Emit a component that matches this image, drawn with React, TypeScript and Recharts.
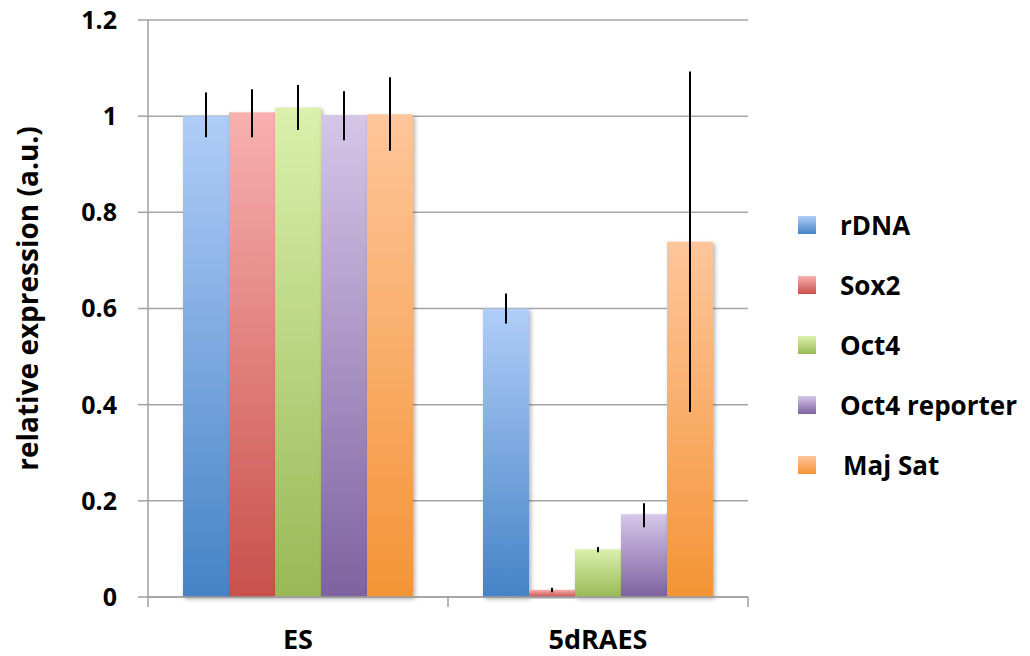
import React from 'react';
import { BarChart, Bar, XAxis, YAxis, CartesianGrid, ErrorBar } from 'recharts';

const categories = ['ES', '5dRAES'];
const seriesNames = ['rDNA', 'Sox2', 'Oct4', 'Oct4 reporter', 'Maj Sat'];
const seriesKeys = ['rDNA', 'sox2', 'oct4', 'oct4Reporter', 'majSat'];

const rDNA = [1.0, 0.6];
const sox2 = [1.008, 0.015];
const oct4 = [1.018, 0.099];
const oct4Reporter = [1.002, 0.172];
const majSat = [1.004, 0.739];

// error bar bounds
const rDNALow = [0.956, 0.569];
const rDNAHigh = [1.049, 0.631];
const sox2Low = [0.956, 0.01];
const sox2High = [1.056, 0.019];
const oct4Low = [0.971, 0.093];
const oct4High = [1.065, 0.104];
const oct4ReporterLow = [0.95, 0.145];
const oct4ReporterHigh = [1.052, 0.195];
const majSatLow = [0.928, 0.385];
const majSatHigh = [1.081, 1.093];

const yTicks = [0, 0.2, 0.4, 0.6, 0.8, 1, 1.2];

const topColors = ['#b0cdf8', '#f8b1b0', '#daf0ad', '#d5c6e8', '#fec69b'];
const bottomColors = ['#4583c6', '#c9504b', '#98b956', '#7e62a0', '#f49436'];

const values = [rDNA, sox2, oct4, oct4Reporter, majSat];
const lows = [rDNALow, sox2Low, oct4Low, oct4ReporterLow, majSatLow];
const highs = [rDNAHigh, sox2High, oct4High, oct4ReporterHigh, majSatHigh];

const data = categories.map((c, i) => {
  const row: any = { category: c };
  seriesKeys.forEach((k, s) => {
    const v = values[s][i];
    row[k] = v;
    row[k + 'Err'] = [v - lows[s][i], highs[s][i] - v];
  });
  return row;
});

const FONT = "'Open Sans', 'DejaVu Sans', sans-serif";

const XTick = (props: any) => {
  const { x, y, payload, index } = props;
  const half = payload && payload.offset ? payload.offset : 150;
  const last = index === categories.length - 1;
  return (
    <g>
      <line x1={x - half} x2={x - half} y1={y} y2={y + 10} stroke="#a0a0a0" strokeWidth={1.5} />
      {last && <line x1={x + half} x2={x + half} y1={y} y2={y + 10} stroke="#a0a0a0" strokeWidth={1.5} />}
      <text x={x} y={y + 41} textAnchor="middle" dominantBaseline="central" fontFamily={FONT} fontWeight="bold" fontSize={27} fill="#000">
        {payload.value}
      </text>
    </g>
  );
};

const YLabel = (props: any) => {
  const vb = props.viewBox || { x: 0, y: 20, width: 148, height: 577 };
  const cx = vb.x + 27;
  const cy = vb.y + vb.height / 2 - 10;
  return (
    <text x={cx} y={cy} transform={`rotate(-90, ${cx}, ${cy})`} textAnchor="middle" dominantBaseline="central" fontFamily={FONT} fontWeight="bold" fontSize={28} fill="#000">
      relative expression (a.u.)
    </text>
  );
};

const LegendBox = () => (
  <div style={{ position: 'absolute', left: 798, top: 195, width: 232, fontFamily: FONT }}>
    {seriesNames.map((n, i) => (
      <div key={n} style={{ height: 60, display: 'flex', alignItems: 'center' }}>
        <div style={{ width: 18, height: 18, flex: 'none', background: `linear-gradient(${topColors[i]}, ${bottomColors[i]})` }} />
        <span style={{ marginLeft: i === 4 ? 27 : 24, fontSize: 26, fontWeight: 'bold', color: '#000', whiteSpace: 'nowrap' }}>{n}</span>
      </div>
    ))}
  </div>
);

const BarShape = (p: any) => (
  <rect x={p.x} y={p.y} width={p.width} height={p.height} fill={p.fill} filter="url(#barShadow)" />
);

export default function App() {
  return (
    <div style={{ position: 'absolute', left: 0, top: 0, width: 1030, height: 656, background: '#fff', overflow: 'hidden' }}>
      <BarChart
        width={1030}
        height={656}
        data={data}
        margin={{ top: 20, right: 282, bottom: 0, left: 0 }}
        barCategoryGap={35}
        barGap={0}
      >
        <defs>
          {seriesKeys.map((k, i) => (
            <linearGradient key={k} id={`grad-${k}`} x1="0" y1="0" x2="0" y2="1">
              <stop offset="0%" stopColor={topColors[i]} />
              <stop offset="100%" stopColor={bottomColors[i]} />
            </linearGradient>
          ))}
          <filter id="barShadow" x="-20%" y="-20%" width="140%" height="140%">
            <feDropShadow dx="2" dy="2" stdDeviation="2" floodColor="#000" floodOpacity="0.3" />
          </filter>
        </defs>
        <CartesianGrid vertical={false} stroke="#a5a5a5" strokeWidth={1.5} />
        <XAxis
          dataKey="category"
          stroke="#a0a0a0"
          strokeWidth={1.5}
          tickLine={false}
          tickSize={0}
          tickMargin={0}
          tick={<XTick />}
          height={59}
        />
        <YAxis
          width={148}
          domain={[0, 1.2]}
          ticks={yTicks}
          stroke="#a0a0a0"
          strokeWidth={1.5}
          tickSize={10}
          tickMargin={21}
          tick={{ fontFamily: FONT, fontWeight: 'bold', fontSize: 25, fill: '#000' }}
          label={<YLabel />}
          interval={0}
        />
        {seriesKeys.map((k, i) => (
          <Bar key={k} dataKey={k} name={seriesNames[i]} fill={`url(#grad-${k})`} isAnimationActive={false} shape={<BarShape />}>
            <ErrorBar dataKey={k + 'Err'} width={0} strokeWidth={2} stroke="#000" />
          </Bar>
        ))}
      </BarChart>
      <LegendBox />
    </div>
  );
}
